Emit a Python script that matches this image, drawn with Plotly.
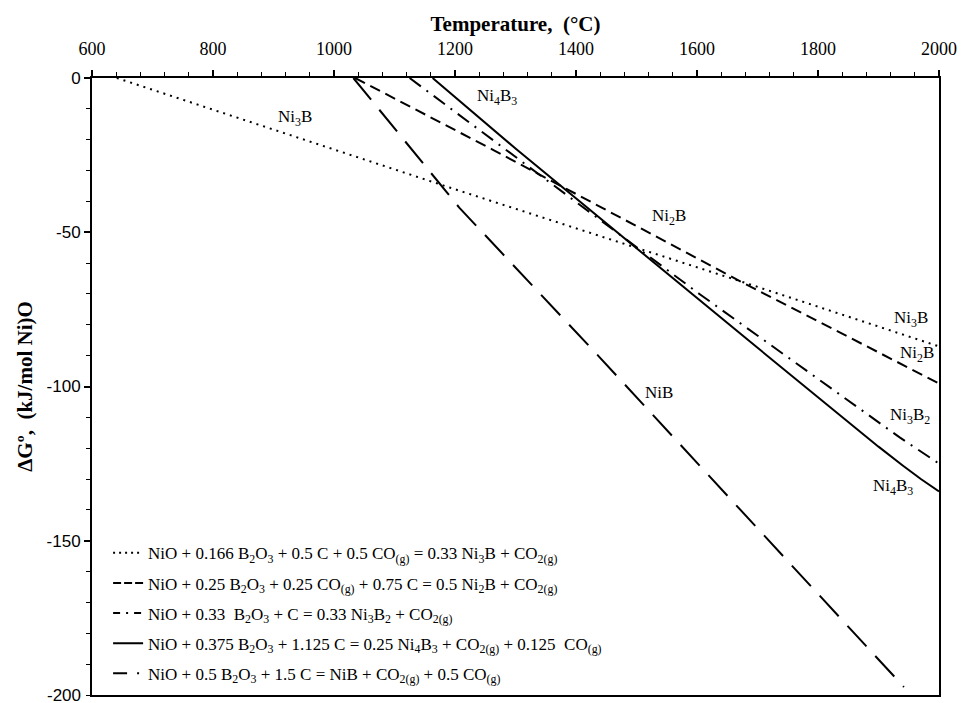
import plotly.graph_objects as go

# Data (Temperature °C, ΔG° kJ/mol)
t_ni3b = [641, 1191, 1686, 2000]
g_ni3b = [0, -35.5, -66.8, -87.0]

t_ni2b = [1035, 1262, 1686, 2000]
g_ni2b = [0, -23.2, -67.4, -99.0]

t_ni3b2 = [1125, 1604, 1935, 2000]
g_ni3b2 = [0, -70.0, -116.5, -125.0]

t_ni4b3 = [1163, 1302, 1686, 1800, 1900, 1940, 1970, 2000]
g_ni4b3 = [0, -23.2, -85.2, -103.5, -119.5, -125.6, -130.0, -134.0]

t_nib = [1032, 1207, 1438, 1942]
g_nib = [0, -42.0, -90.3, -197.4]

y_ticks = [0, -50, -100, -150, -200]
y_ticktext = ["0", "-50", "-100", "-150", "-200"]
x_ticks = [600, 800, 1000, 1200, 1400, 1600, 1800, 2000]

names = [
    "NiO + 0.166 B<sub>2</sub>O<sub>3</sub> + 0.5 C + 0.5 CO<sub>(g)</sub> = 0.33 Ni<sub>3</sub>B + CO<sub>2(g)</sub>",
    "NiO + 0.25 B<sub>2</sub>O<sub>3</sub> + 0.25 CO<sub>(g)</sub> + 0.75 C = 0.5 Ni<sub>2</sub>B + CO<sub>2(g)</sub>",
    "NiO + 0.33  B<sub>2</sub>O<sub>3</sub> + C = 0.33 Ni<sub>3</sub>B<sub>2</sub> + CO<sub>2(g)</sub>",
    "NiO + 0.375 B<sub>2</sub>O<sub>3</sub> + 1.125 C = 0.25 Ni<sub>4</sub>B<sub>3</sub> + CO<sub>2(g)</sub> + 0.125  CO<sub>(g)</sub>",
    "NiO + 0.5 B<sub>2</sub>O<sub>3</sub> + 1.5 C = NiB + CO<sub>2(g)</sub> + 0.5 CO<sub>(g)</sub>",
]

labels = [
    ("Ni<sub>3</sub>B", 935, -13.0),
    ("Ni<sub>4</sub>B<sub>3</sub>", 1270, -6.0),
    ("Ni<sub>2</sub>B", 1554, -45.0),
    ("NiB", 1538, -102.0),
    ("Ni<sub>3</sub>B", 1954, -78.0),
    ("Ni<sub>2</sub>B", 1964, -89.5),
    ("Ni<sub>3</sub>B<sub>2</sub>", 1952, -109.5),
    ("Ni<sub>4</sub>B<sub>3</sub>", 1924, -132.5),
]

# (x, y, line dash, legend-sample dash)
series = [
    (t_ni3b, g_ni3b, "2px,5px", "2px,4px"),
    (t_ni2b, g_ni2b, "11px,6px", "8px,3px"),
    (t_ni3b2, g_ni3b2, "14px,7px,2px,7px", "7px,6px,2px,6px"),
    (t_ni4b3, g_ni4b3, "solid", "solid"),
    (t_nib, g_nib, "28px,13px", "14px,10px,2px,20px"),
]

SERIF = "Liberation Serif, Times New Roman, serif"
SANS = "Liberation Sans, Arial, sans-serif"

fig = go.Figure()
for i, ((t, g, dash, ldash), name) in enumerate(zip(series, names)):
    fig.add_trace(go.Scatter(
        x=t, y=g, mode="lines", name=name, legendgroup=f"g{i}",
        line=dict(color="black", width=2, dash=dash),
        showlegend=False,
    ))
    # legend-only twin with the reference's legend sample pattern
    fig.add_trace(go.Scatter(
        x=[None], y=[None], mode="lines", name=name, legendgroup=f"g{i}",
        line=dict(color="black", width=2, dash=ldash),
    ))

for text, x, y in labels:
    fig.add_annotation(x=x, y=y, text=text, showarrow=False,
                       font=dict(family=SERIF, size=17, color="black"))

# bottom tick label (cut by the page edge in the reference)
fig.add_annotation(xref="paper", x=0, xshift=-9, xanchor="right",
                   yref="y", y=y_ticks[-1], yanchor="middle",
                   text=y_ticktext[-1], showarrow=False,
                   font=dict(family=SANS, size=17, color="black"))

fig.update_layout(
    width=963, height=703,
    margin=dict(l=92, r=23, t=78, b=6),
    paper_bgcolor="white", plot_bgcolor="white",
    showlegend=True,
    legend=dict(x=0.019, y=0.006, xanchor="left", yanchor="bottom",
                bgcolor="rgba(0,0,0,0)", tracegroupgap=5,
                font=dict(family=SERIF, size=17, color="black")),
    xaxis=dict(
        range=[600, 2000], side="top", tickvals=x_ticks,
        showgrid=False, zeroline=False, showline=True, linecolor="black",
        linewidth=2, mirror=True, ticks="outside", ticklen=6, tickwidth=1.5,
        tickcolor="black", ticklabelstandoff=8,
        minor=dict(dtick=40, tick0=600, ticks="outside", ticklen=4,
                   tickcolor="black", tickwidth=1, showgrid=False),
        tickfont=dict(family=SERIF, size=18, color="black"),
        title=dict(text="<b>Temperature,  (°C)</b>", standoff=1,
                   font=dict(family=SERIF, size=21, color="black")),
    ),
    yaxis=dict(
        range=[-200, 0], tickvals=y_ticks[:-1], ticktext=y_ticktext[:-1],
        showgrid=False, zeroline=False, showline=True, linecolor="black",
        linewidth=2, mirror=True, ticks="outside", ticklen=6, tickwidth=1.5,
        tickcolor="black",
        minor=dict(dtick=10, ticks="outside", ticklen=4, tickcolor="black",
                   tickwidth=1, showgrid=False),
        tickfont=dict(family=SANS, size=17, color="black"),
        title=dict(text="<b>ΔGº,  (kJ/mol Ni)O</b>", standoff=8,
                   font=dict(family=SERIF, size=21, color="black")),
    ),
)

fig.write_html("out.html")
